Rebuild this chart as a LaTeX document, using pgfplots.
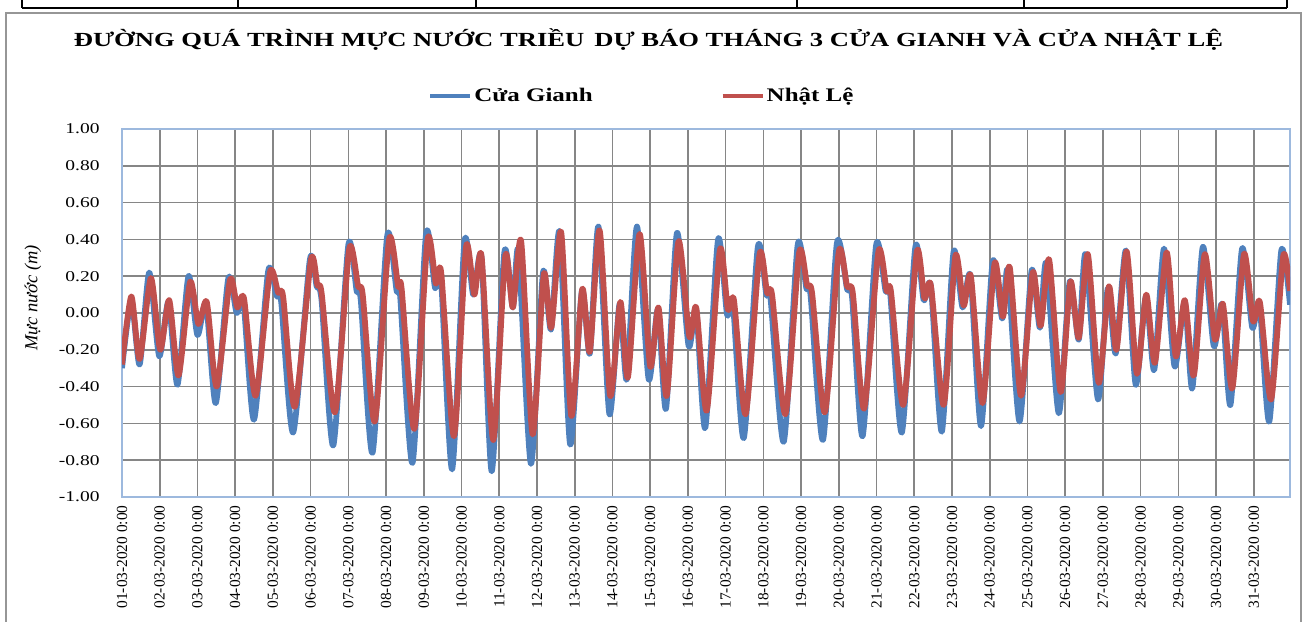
\documentclass[border=0pt]{standalone}
\usepackage{fontspec}
\setmainfont{Liberation Serif}
\newfontfamily\widefont{Liberation Serif}[FakeStretch=1.3]
\newfontfamily\titlefont{Liberation Serif}[FakeStretch=1.33]
\usepackage{pgfplots}
\pgfplotsset{compat=1.18}
\definecolor{cgblue}{HTML}{4F81BD}
\definecolor{nlred}{HTML}{C0504D}
\definecolor{axblue}{HTML}{9DB9DE}
\definecolor{gridgray}{RGB}{134,134,134}
\definecolor{framegray}{RGB}{150,150,150}
\begin{document}
\begin{tikzpicture}
\useasboundingbox (0pt,0pt) rectangle (652pt,310.5pt);
% outer frame of the document table / chart area
\draw[framegray, line width=1pt] (3pt,-5pt) -- (3pt,304.2pt) -- (650.5pt,304.2pt) -- (650.5pt,-5pt);
\draw[black, line width=1.2pt] (11pt,306.5pt) -- (643.5pt,306.5pt);
\foreach \xx in {11,119,238,398.5,512,643.5}
  \draw[black, line width=1.2pt] (\xx pt,306.5pt) -- (\xx pt,315pt);
% title
\node[font=\titlefont\fontsize{10}{12}\selectfont\bfseries] at (324.25pt,290.5pt)
  {ĐƯỜNG QUÁ TRÌNH MỰC NƯỚC TRIỀU\, DỰ BÁO THÁNG 3 CỬA GIANH VÀ CỬA NHẬT LỆ};
\begin{axis}[
  at={(61pt,62pt)}, anchor=south west,
  scale only axis, width=584pt, height=184pt,
  xmin=0, xmax=30.96, ymin=-1, ymax=1,
  xtick={0,...,30},
  xticklabels={01-03-2020 0:00,02-03-2020 0:00,03-03-2020 0:00,04-03-2020 0:00,05-03-2020 0:00,06-03-2020 0:00,07-03-2020 0:00,08-03-2020 0:00,09-03-2020 0:00,10-03-2020 0:00,11-03-2020 0:00,12-03-2020 0:00,13-03-2020 0:00,14-03-2020 0:00,15-03-2020 0:00,16-03-2020 0:00,17-03-2020 0:00,18-03-2020 0:00,19-03-2020 0:00,20-03-2020 0:00,21-03-2020 0:00,22-03-2020 0:00,23-03-2020 0:00,24-03-2020 0:00,25-03-2020 0:00,26-03-2020 0:00,27-03-2020 0:00,28-03-2020 0:00,29-03-2020 0:00,30-03-2020 0:00,31-03-2020 0:00},
  ytick={-1,-0.8,-0.6,-0.4,-0.2,0,0.2,0.4,0.6,0.8,1},
  yticklabels={-1.00,-0.80,-0.60,-0.40,-0.20,0.00,0.20,0.40,0.60,0.80,1.00},
  xticklabel style={font=\fontsize{7.7}{9}\selectfont, yshift=-4pt, rotate=90, anchor=east, inner sep=0pt},
  yticklabel style={font=\widefont\fontsize{7.5}{9}\selectfont, anchor=east, inner sep=0pt, xshift=-11pt},
  grid=major,
  major grid style={gridgray, line width=0.8pt},
  axis line style={axblue, line width=0.8pt},
  xtick style={draw=none},
  ytick style={draw=none},
  ylabel={\textit{Mực nước (m)}},
  ylabel style={font=\fontsize{9.2}{11}\selectfont, at={(axis description cs:-0.0762,0.541)}, anchor=center},
  legend columns=2,
  legend style={at={(0.262,1.0897)}, anchor=west, draw=none, fill=none,
    font=\widefont\fontsize{9.6}{11}\selectfont\bfseries, inner sep=0pt,
    nodes={inner sep=1pt},
    /tikz/every even column/.append style={column sep=63pt}},
  legend image code/.code={\draw[#1, line width=2pt] (0pt,0pt) -- (20pt,0pt);},
]
\addplot[cgblue, line width=2.9pt, line join=round, smooth, tension=0.42] coordinates {
(0,-0.30) (0.247,0.07) (0.467,-0.28) (0.722,0.22) (0.987,-0.235) (1.233,0.06) (1.471,-0.39) (1.762,0.20) (2.0,-0.12) (2.229,0.05) (2.485,-0.49) (2.819,0.19) (3.04,0.00) (3.216,0.07) (3.498,-0.58) (3.877,0.23) (4.10,0.09) (4.22,0.06) (4.537,-0.65)
(4.98,0.29) (5.16,0.145) (5.29,0.07) (5.60,-0.72) (6.00,0.37) (6.22,0.12) (6.33,0.07) (6.64,-0.76) (7.03,0.42) (7.28,0.12) (7.37,0.10) (7.70,-0.815) (8.06,0.43) (8.30,0.135) (8.45,0.21) (8.75,-0.85) (9.08,0.39) (9.31,0.10) (9.53,0.30) (9.80,-0.86)
(10.135,0.33) (10.36,0.03) (10.51,0.335) (10.84,-0.82) (11.16,0.22) (11.37,-0.09) (11.60,0.44) (11.88,-0.715) (12.19,0.12) (12.40,-0.22) (12.63,0.47) (12.92,-0.55) (13.19,0.05) (13.38,-0.36) (13.65,0.47) (13.96,-0.36) (14.205,0.02) (14.42,-0.52) (14.71,0.435) (15.02,-0.18) (15.22,0.02) (15.46,-0.625)
(15.80,0.40) (16.04,-0.01) (16.19,0.06) (16.48,-0.68) (16.855,0.36) (17.08,0.10) (17.19,0.08) (17.54,-0.70) (17.91,0.37) (18.14,0.135) (18.25,0.10) (18.58,-0.69) (18.95,0.38) (19.22,0.13) (19.35,0.09) (19.63,-0.67) (19.99,0.37) (20.24,0.12) (20.36,0.11) (20.67,-0.65)
(21.03,0.36) (21.25,0.07) (21.44,0.145) (21.73,-0.645) (22.04,0.33) (22.28,0.03) (22.49,0.20) (22.77,-0.615) (23.08,0.28) (23.33,-0.03) (23.48,0.23) (23.79,-0.59) (24.11,0.23) (24.33,-0.08) (24.50,0.27) (24.83,-0.545) (25.12,0.17) (25.36,-0.145) (25.54,0.32) (25.87,-0.47)
(26.13,0.135) (26.34,-0.22) (26.61,0.34) (26.87,-0.39) (27.14,0.09) (27.36,-0.31) (27.62,0.35) (27.90,-0.29) (28.17,0.06) (28.37,-0.41) (28.65,0.36) (28.94,-0.18) (29.16,0.05) (29.38,-0.50) (29.69,0.35) (29.96,-0.08) (30.15,0.05) (30.41,-0.59) (30.73,0.34) (30.96,0.045)
};
\addlegendentry{Cửa Gianh}
\addplot[nlred, line width=2.9pt, line join=round, smooth, tension=0.42] coordinates {
(0,-0.28) (0.247,0.09) (0.467,-0.25) (0.767,0.19) (1.013,-0.20) (1.251,0.07) (1.498,-0.34) (1.806,0.17) (2.026,-0.06) (2.247,0.06) (2.511,-0.40) (2.863,0.18) (3.057,0.03) (3.233,0.08) (3.542,-0.45) (3.921,0.22) (4.14,0.11) (4.27,0.09) (4.581,-0.51)
(5.01,0.29) (5.18,0.15) (5.29,0.11) (5.645,-0.54) (6.025,0.35) (6.26,0.145) (6.38,0.10) (6.70,-0.59) (7.08,0.40) (7.32,0.145) (7.41,0.135) (7.75,-0.63) (8.10,0.40) (8.32,0.16) (8.46,0.22) (8.80,-0.67) (9.12,0.36) (9.34,0.10) (9.53,0.31) (9.84,-0.69)
(10.16,0.31) (10.36,0.03) (10.58,0.39) (10.885,-0.66) (11.18,0.21) (11.38,-0.08) (11.64,0.44) (11.91,-0.56) (12.20,0.13) (12.40,-0.21) (12.66,0.45) (12.94,-0.45) (13.21,0.06) (13.41,-0.35) (13.72,0.43) (14.00,-0.29) (14.22,0.03) (14.44,-0.45) (14.75,0.39) (15.04,-0.13) (15.22,0.03) (15.50,-0.53)
(15.85,0.345) (16.06,0.02) (16.22,0.07) (16.53,-0.55) (16.90,0.32) (17.10,0.11) (17.23,0.10) (17.585,-0.55) (17.95,0.33) (18.16,0.15) (18.29,0.11) (18.63,-0.54) (19.00,0.335) (19.22,0.145) (19.37,0.11) (19.67,-0.52) (20.05,0.335) (20.27,0.12) (20.38,0.12) (20.71,-0.50)
(21.07,0.335) (21.27,0.08) (21.44,0.15) (21.78,-0.50) (22.09,0.31) (22.31,0.04) (22.50,0.20) (22.81,-0.49) (23.13,0.27) (23.35,-0.02) (23.53,0.25) (23.83,-0.45) (24.14,0.22) (24.35,-0.07) (24.575,0.29) (24.88,-0.43) (25.14,0.17) (25.36,-0.135) (25.60,0.32) (25.89,-0.38)
(26.16,0.145) (26.36,-0.20) (26.63,0.335) (26.90,-0.33) (27.15,0.10) (27.38,-0.27) (27.69,0.33) (27.93,-0.235) (28.17,0.07) (28.41,-0.34) (28.70,0.32) (28.97,-0.145) (29.18,0.05) (29.43,-0.41) (29.74,0.32) (29.98,-0.045) (30.16,0.06) (30.46,-0.47) (30.78,0.31) (30.96,0.12)
};
\addlegendentry{Nhật Lệ}
\end{axis}
\end{tikzpicture}
\end{document}
